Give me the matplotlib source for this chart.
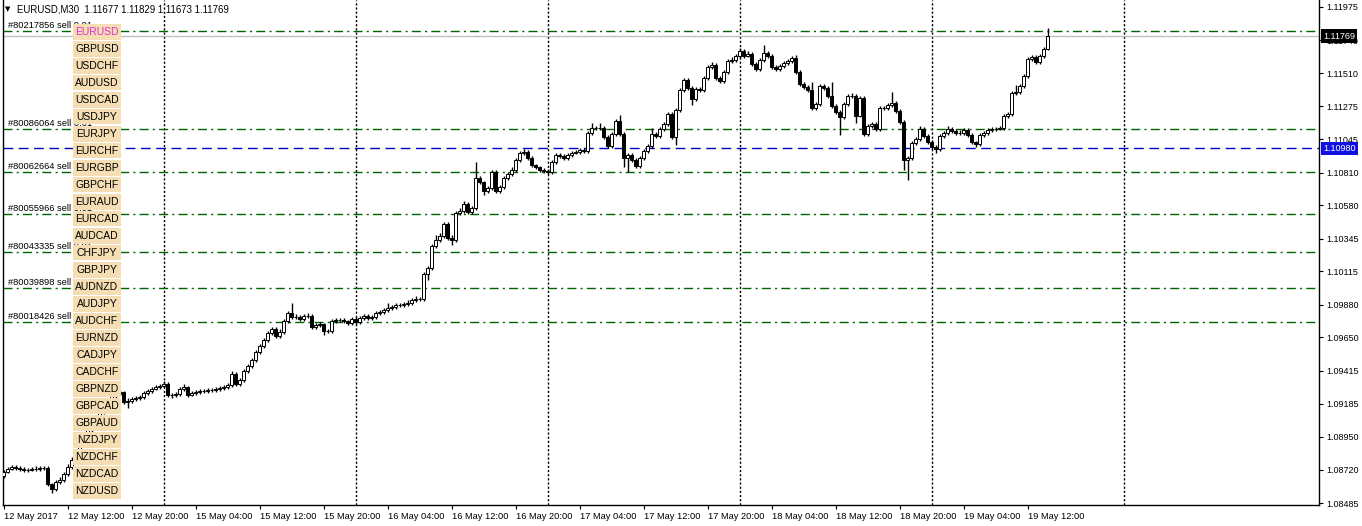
import matplotlib.pyplot as plt
from matplotlib.patches import Rectangle
from matplotlib.transforms import blended_transform_factory

W, H = 1362, 526

# EURUSD M30 candles, 12 May 04:00 .. 19 May 14:00
first_open = 1.08675
closes = [
    1.08703, 1.08724, 1.08738, 1.08731, 1.08724, 1.08717, 1.08717, 1.08724, 1.08724, 1.08731,
    1.08731, 1.08619, 1.08583, 1.08633, 1.08647, 1.08689, 1.08738, 1.08787, 1.08844, 1.08893,
    1.08942, 1.08999, 1.09034, 1.09083, 1.09125, 1.09174, 1.09210, 1.09238, 1.09252, 1.09266,
    1.09196, 1.09203, 1.09217, 1.09224, 1.09231, 1.09259, 1.09273, 1.09287, 1.09301, 1.09308,
    1.09322, 1.09245, 1.09245, 1.09252, 1.09287, 1.09301, 1.09245, 1.09259, 1.09266, 1.09273,
    1.09273, 1.09280, 1.09280, 1.09287, 1.09294, 1.09301, 1.09315, 1.09393, 1.09322, 1.09350,
    1.09414, 1.09449, 1.09491, 1.09547, 1.09590, 1.09632, 1.09681, 1.09709, 1.09660, 1.09688,
    1.09765, 1.09822, 1.09794, 1.09794, 1.09780, 1.09801, 1.09801, 1.09723, 1.09737, 1.09744,
    1.09695, 1.09695, 1.09765, 1.09772, 1.09772, 1.09765, 1.09751, 1.09780, 1.09758, 1.09787,
    1.09801, 1.09787, 1.09794, 1.09822, 1.09829, 1.09843, 1.09857, 1.09864, 1.09878, 1.09878,
    1.09885, 1.09892, 1.09913, 1.09920, 1.09920, 1.10096, 1.10138, 1.10293, 1.10335, 1.10364,
    1.10448, 1.10349, 1.10335, 1.10525, 1.10539, 1.10589, 1.10532, 1.10561, 1.10772, 1.10743,
    1.10680, 1.10701, 1.10814, 1.10680, 1.10708, 1.10772, 1.10800, 1.10828, 1.10898, 1.10947,
    1.10955, 1.10912, 1.10863, 1.10849, 1.10828, 1.10821, 1.10814, 1.10884, 1.10933, 1.10926,
    1.10912, 1.10933, 1.10947, 1.10955, 1.10969, 1.10962, 1.11088, 1.11123, 1.11123, 1.11123,
    1.11060, 1.10997, 1.11081, 1.11173, 1.11081, 1.10912, 1.10933, 1.10898, 1.10856, 1.10912,
    1.10962, 1.10997, 1.11081, 1.11067, 1.11116, 1.11152, 1.11222, 1.11060, 1.11250, 1.11391,
    1.11461, 1.11405, 1.11327, 1.11398, 1.11391, 1.11475, 1.11553, 1.11567, 1.11475, 1.11454,
    1.11517, 1.11595, 1.11602, 1.11630, 1.11665, 1.11630, 1.11644, 1.11574, 1.11539, 1.11602,
    1.11651, 1.11630, 1.11553, 1.11539, 1.11560, 1.11581, 1.11595, 1.11616, 1.11517, 1.11433,
    1.11412, 1.11391, 1.11264, 1.11292, 1.11419, 1.11405, 1.11349, 1.11278, 1.11236, 1.11201,
    1.11292, 1.11349, 1.11349, 1.11208, 1.11334, 1.11081, 1.11137, 1.11152, 1.11116, 1.11264,
    1.11264, 1.11285, 1.11299, 1.11243, 1.11166, 1.10898, 1.10912, 1.11018, 1.11046, 1.11116,
    1.11067, 1.11025, 1.10990, 1.10976, 1.11067, 1.11088, 1.11116, 1.11102, 1.11088, 1.11088,
    1.11109, 1.11074, 1.11025, 1.11011, 1.11074, 1.11088, 1.11109, 1.11116, 1.11116, 1.11123,
    1.11208, 1.11222, 1.11370, 1.11377, 1.11419, 1.11489, 1.11609, 1.11623, 1.11588, 1.11630,
    1.11677, 1.11769,
]
highs = [
    1.08720, 1.08738, 1.08752, 1.08752, 1.08745, 1.08738, 1.08731, 1.08738, 1.08745, 1.08745,
    1.08745, 1.08745, 1.08626, 1.08647, 1.08668, 1.08703, 1.08759, 1.08808, 1.08858, 1.08907,
    1.08956, 1.09013, 1.09048, 1.09097, 1.09139, 1.09188, 1.09224, 1.09252, 1.09266, 1.09280,
    1.09273, 1.09224, 1.09231, 1.09238, 1.09245, 1.09273, 1.09287, 1.09301, 1.09315, 1.09322,
    1.09343, 1.09336, 1.09259, 1.09266, 1.09301, 1.09322, 1.09308, 1.09273, 1.09280, 1.09287,
    1.09287, 1.09294, 1.09294, 1.09301, 1.09308, 1.09315, 1.09329, 1.09414, 1.09407, 1.09364,
    1.09428, 1.09463, 1.09505, 1.09561, 1.09604, 1.09646, 1.09695, 1.09723, 1.09723, 1.09709,
    1.09779, 1.09836, 1.09892, 1.09815, 1.09808, 1.09815, 1.09822, 1.09815, 1.09751, 1.09758,
    1.09751, 1.09709, 1.09779, 1.09786, 1.09786, 1.09786, 1.09772, 1.09794, 1.09794, 1.09801,
    1.09815, 1.09815, 1.09808, 1.09836, 1.09843, 1.09857, 1.09892, 1.09878, 1.09892, 1.09892,
    1.09899, 1.09913, 1.09927, 1.09941, 1.09934, 1.10110, 1.10152, 1.10307, 1.10371, 1.10385,
    1.10462, 1.10462, 1.10370, 1.10539, 1.10560, 1.10610, 1.10603, 1.10575, 1.10884, 1.10786,
    1.10750, 1.10715, 1.10828, 1.10828, 1.10722, 1.10786, 1.10814, 1.10849, 1.10912, 1.10961,
    1.10976, 1.10969, 1.10926, 1.10870, 1.10856, 1.10842, 1.10835, 1.10898, 1.10947, 1.10947,
    1.10940, 1.10947, 1.10961, 1.10969, 1.10983, 1.10983, 1.11102, 1.11159, 1.11137, 1.11159,
    1.11137, 1.11074, 1.11095, 1.11187, 1.11215, 1.11095, 1.10947, 1.10947, 1.10912, 1.10926,
    1.10976, 1.11011, 1.11123, 1.11095, 1.11130, 1.11166, 1.11236, 1.11236, 1.11264, 1.11405,
    1.11475, 1.11475, 1.11419, 1.11412, 1.11412, 1.11489, 1.11567, 1.11588, 1.11581, 1.11489,
    1.11531, 1.11609, 1.11623, 1.11644, 1.11686, 1.11679, 1.11665, 1.11658, 1.11588, 1.11616,
    1.11707, 1.11665, 1.11644, 1.11567, 1.11574, 1.11595, 1.11609, 1.11630, 1.11637, 1.11531,
    1.11447, 1.11426, 1.11447, 1.11306, 1.11433, 1.11433, 1.11419, 1.11447, 1.11292, 1.11250,
    1.11306, 1.11363, 1.11370, 1.11363, 1.11348, 1.11348, 1.11151, 1.11166, 1.11166, 1.11278,
    1.11278, 1.11299, 1.11377, 1.11313, 1.11257, 1.11180, 1.10926, 1.11032, 1.11060, 1.11137,
    1.11130, 1.11081, 1.11039, 1.11004, 1.11081, 1.11102, 1.11137, 1.11130, 1.11116, 1.11109,
    1.11123, 1.11123, 1.11088, 1.11032, 1.11088, 1.11102, 1.11123, 1.11130, 1.11130, 1.11137,
    1.11222, 1.11236, 1.11384, 1.11426, 1.11433, 1.11503, 1.11623, 1.11637, 1.11637, 1.11644,
    1.11691, 1.11829,
]
lows = [
    1.08660, 1.08695, 1.08717, 1.08717, 1.08710, 1.08703, 1.08703, 1.08710, 1.08710, 1.08710,
    1.08717, 1.08605, 1.08555, 1.08569, 1.08619, 1.08633, 1.08675, 1.08724, 1.08773, 1.08830,
    1.08879, 1.08928, 1.08985, 1.09020, 1.09069, 1.09111, 1.09160, 1.09196, 1.09224, 1.09238,
    1.09182, 1.09153, 1.09189, 1.09203, 1.09210, 1.09217, 1.09245, 1.09259, 1.09280, 1.09287,
    1.09294, 1.09231, 1.09224, 1.09231, 1.09238, 1.09273, 1.09231, 1.09238, 1.09245, 1.09252,
    1.09259, 1.09259, 1.09266, 1.09266, 1.09273, 1.09280, 1.09287, 1.09301, 1.09308, 1.09308,
    1.09336, 1.09400, 1.09435, 1.09477, 1.09533, 1.09576, 1.09618, 1.09667, 1.09646, 1.09646,
    1.09674, 1.09751, 1.09780, 1.09780, 1.09766, 1.09766, 1.09787, 1.09709, 1.09709, 1.09723,
    1.09667, 1.09681, 1.09681, 1.09751, 1.09758, 1.09751, 1.09737, 1.09737, 1.09744, 1.09744,
    1.09773, 1.09773, 1.09773, 1.09780, 1.09808, 1.09815, 1.09829, 1.09843, 1.09850, 1.09864,
    1.09864, 1.09871, 1.09878, 1.09899, 1.09906, 1.09906, 1.10054, 1.10124, 1.10279, 1.10321,
    1.10350, 1.10335, 1.10300, 1.10321, 1.10511, 1.10525, 1.10518, 1.10518, 1.10547, 1.10729,
    1.10652, 1.10666, 1.10687, 1.10666, 1.10666, 1.10694, 1.10758, 1.10786, 1.10814, 1.10884,
    1.10933, 1.10898, 1.10849, 1.10835, 1.10814, 1.10807, 1.10800, 1.10800, 1.10870, 1.10912,
    1.10898, 1.10898, 1.10919, 1.10940, 1.10940, 1.10948, 1.10948, 1.11074, 1.11109, 1.11109,
    1.11046, 1.10983, 1.10983, 1.11067, 1.11067, 1.10849, 1.10814, 1.10884, 1.10842, 1.10842,
    1.10898, 1.10948, 1.10983, 1.11053, 1.11053, 1.11102, 1.11138, 1.11046, 1.11004, 1.11236,
    1.11377, 1.11391, 1.11285, 1.11313, 1.11377, 1.11377, 1.11461, 1.11539, 1.11461, 1.11440,
    1.11440, 1.11503, 1.11581, 1.11588, 1.11616, 1.11616, 1.11623, 1.11560, 1.11525, 1.11525,
    1.11588, 1.11616, 1.11539, 1.11525, 1.11525, 1.11546, 1.11567, 1.11581, 1.11503, 1.11419,
    1.11398, 1.11377, 1.11250, 1.11250, 1.11278, 1.11391, 1.11335, 1.11264, 1.11222, 1.11074,
    1.11187, 1.11278, 1.11335, 1.11159, 1.11201, 1.11067, 1.11067, 1.11123, 1.11102, 1.11102,
    1.11250, 1.11250, 1.11271, 1.11229, 1.11152, 1.10828, 1.10758, 1.10898, 1.11004, 1.11032,
    1.11053, 1.11011, 1.10976, 1.10948, 1.10962, 1.11053, 1.11074, 1.11088, 1.11074, 1.11074,
    1.11074, 1.11060, 1.11011, 1.10990, 1.10997, 1.11060, 1.11074, 1.11095, 1.11102, 1.11109,
    1.11109, 1.11194, 1.11208, 1.11356, 1.11363, 1.11405, 1.11475, 1.11595, 1.11574, 1.11574,
    1.11616, 1.11673,
]

tick_bars = list(range(0, 257, 16))
time_labels = ["12 May 2017", "12 May 12:00", "12 May 20:00", "15 May 04:00", "15 May 12:00",
               "15 May 20:00", "16 May 04:00", "16 May 12:00", "16 May 20:00", "17 May 04:00",
               "17 May 12:00", "17 May 20:00", "18 May 04:00", "18 May 12:00", "18 May 20:00",
               "19 May 04:00", "19 May 12:00"]
day_bars = [40, 88, 136, 184, 232, 280]
price_ticks = [1.11975, 1.11740, 1.11510, 1.11275, 1.11045, 1.10810, 1.10580, 1.10345,
               1.10115, 1.09880, 1.09650, 1.09415, 1.09185, 1.08950, 1.08720, 1.08485]

order_ids = ["#80217856", "#80086064", "#80062664", "#80055966",
             "#80043335", "#80039898", "#80018426"]
order_prices = [1.11806, 1.11116, 1.10814, 1.10518, 1.10251, 1.09998, 1.09758]
alert_level = 1.10980

symbols = ["EURUSD", "GBPUSD", "USDCHF", "AUDUSD", "USDCAD", "USDJPY", "EURJPY",
           "EURCHF", "EURGBP", "GBPCHF", "EURAUD", "EURCAD", "AUDCAD", "CHFJPY",
           "GBPJPY", "AUDNZD", "AUDJPY", "AUDCHF", "EURNZD", "CADJPY", "CADCHF",
           "GBPNZD", "GBPCAD", "GBPAUD", "NZDJPY", "NZDCHF", "NZDCAD", "NZDUSD"]

opens = [first_open] + closes[:-1]
x = list(range(len(closes)))

plt.rcParams['font.family'] = ['Liberation Sans', 'DejaVu Sans']
fig = plt.figure(figsize=(W / 100, H / 100), dpi=100)
ax = fig.add_axes([3 / W, 21 / H, 1316 / W, 505 / H])
ax.set_xlim(-0.125, 328.875)
ax.set_ylim(1.08471, 1.12024)

# grid: day separators
for b in day_bars:
    ax.axvline(b, color='black', lw=1, linestyle=(0, (1.6, 1.4)), zorder=1)

# bid line
ax.axhline(closes[-1], color='#c0c0c0', lw=1, zorder=1)

# open orders
for p in order_prices:
    ax.axhline(p, color='#006400', lw=1, linestyle=(0, (6.5, 3, 1.5, 3)), zorder=2)
ax.axhline(alert_level, color='#0000c8', lw=1, linestyle=(0, (7, 4)), zorder=2)

# candles
ax.vlines(x, lows, highs, color='black', lw=1, zorder=3)
bottoms = [min(o, c) for o, c in zip(opens, closes)]
heights = [abs(c - o) for o, c in zip(opens, closes)]
fills = ['white' if c >= o else 'black' for o, c in zip(opens, closes)]
ax.bar(x, heights, bottom=bottoms, width=0.55, color=fills, edgecolor='black',
       linewidth=0.7, zorder=4)

trans = blended_transform_factory(ax.transAxes, ax.transData)
for oid, p in zip(order_ids, order_prices):
    ax.annotate(f"{oid} sell 0.01", xy=(5 / 1316, p), xycoords=trans,
                xytext=(0, 1), textcoords='offset points', fontsize=6.7, va='bottom', zorder=5)

# axes look
for side in ['left', 'right', 'bottom']:
    ax.spines[side].set_color('black')
    ax.spines[side].set_linewidth(1)
ax.spines['top'].set_visible(False)

ax.yaxis.tick_right()
ax.set_yticks(price_ticks)
ax.set_yticklabels([f"{p:.5f}" for p in price_ticks])
ax.tick_params(axis='y', direction='out', length=3, labelsize=6.5, pad=2)
ax.set_xticks(tick_bars)
ax.set_xticklabels(time_labels, ha='left')
ax.tick_params(axis='x', direction='out', length=3, labelsize=6.7, pad=2)

# price tags on the scale
ax.text(1 + 4 / 1316, closes[-1], f"{closes[-1]:.5f}", transform=trans, ha='left', va='center',
        fontsize=6.5, color='white', clip_on=False, zorder=10,
        bbox=dict(boxstyle='square,pad=0.25', fc='black', ec='none'))
ax.text(1 + 4 / 1316, alert_level, f"{alert_level:.5f}", transform=trans, ha='left', va='center',
        fontsize=6.5, color='white', clip_on=False, zorder=10,
        bbox=dict(boxstyle='square,pad=0.25', fc='#1010e0', ec='none'))

# header
fig.text(5 / W, 1 - 9 / H, "▼", fontsize=5, va='center', family='DejaVu Sans')
fig.text(17 / W, 1 - 9 / H,
         f"EURUSD,M30  {opens[-1]:.5f} {highs[-1]:.5f} {lows[-1]:.5f} {closes[-1]:.5f}",
         fontsize=6.9, va='center')

# symbol button panel
for k, sym in enumerate(symbols):
    top = 24 + 17 * k
    fig.add_artist(Rectangle((73 / W, 1 - (top + 15.5) / H), 48 / W, 15.5 / H,
                             transform=fig.transFigure, facecolor='#f5deb3',
                             edgecolor='none', zorder=5))
    fig.text(97 / W, 1 - (top + 8) / H, sym, ha='center', va='center', fontsize=7.5,
             color='#e02ed0' if sym == 'EURUSD' else 'black', zorder=6)

fig.savefig('out.png', dpi=100, facecolor='white')
